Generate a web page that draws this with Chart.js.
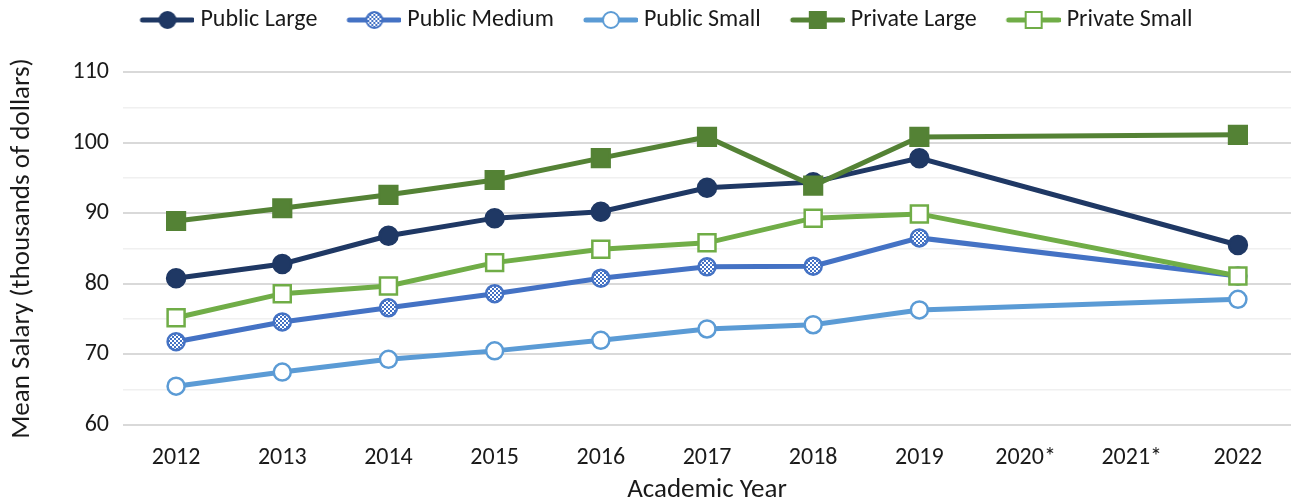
<!DOCTYPE html>
<html>
<head>
<meta charset="utf-8">
<script src="https://cdn.jsdelivr.net/npm/chart.js@4.4.1/dist/chart.umd.min.js"></script>
<style>
  html, body { margin: 0; padding: 0; background: #fff; }
  #chart { display: block; }
</style>
</head>
<body>
<canvas id="chart" width="1306" height="504"></canvas>
<script>
// academic years on the x axis (2020 and 2021 have no data)
const years = ['2012', '2013', '2014', '2015', '2016', '2017', '2018', '2019', '2020*', '2021*', '2022'];

// mean salary, thousands of dollars
const publicLarge  = [80.8, 82.8, 86.8, 89.3, 90.2, 93.6, 94.4, 97.8, null, null, 85.5];
const publicMedium = [71.8, 74.6, 76.6, 78.6, 80.8, 82.4, 82.5, 86.5, null, null, 81.1];
const publicSmall  = [65.5, 67.5, 69.3, 70.5, 72.0, 73.6, 74.2, 76.3, null, null, 77.8];
const privateLarge = [88.9, 90.7, 92.6, 94.7, 97.8, 100.8, 93.9, 100.8, null, null, 101.1];
const privateSmall = [75.2, 78.6, 79.7, 83.0, 84.9, 85.8, 89.3, 89.9, null, null, 81.1];

const yTicks = [60, 70, 80, 90, 100, 110];

const FONT = 'Calibri, Carlito, Lato, sans-serif';
const TXT = '#1a1a1a';
const canvas = document.getElementById('chart');
const ctx = canvas.getContext('2d');

// checker fill for the Public Medium markers
function checker(color) {
  const pc = document.createElement('canvas');
  pc.width = 4; pc.height = 4;
  const g = pc.getContext('2d');
  g.fillStyle = '#fff';
  g.fillRect(0, 0, 4, 4);
  g.fillStyle = color;
  g.fillRect(0, 0, 2, 2);
  g.fillRect(2, 2, 2, 2);
  return ctx.createPattern(pc, 'repeat');
}

// legend picture: line with the marker in the middle.
// legend box is 70 wide, picture 82 wide centred on it -> line ends just before the text
function legendImg(color, shape, fill) {
  const c = document.createElement('canvas');
  c.width = 82; c.height = 24;
  const g = c.getContext('2d');
  g.strokeStyle = color;
  g.lineWidth = 5;
  g.lineCap = 'round';
  g.beginPath();
  g.moveTo(30, 12);
  g.lineTo(80, 12);
  g.stroke();
  g.fillStyle = fill;
  g.lineWidth = 2;
  const mx = 55;
  if (shape == 'circle') {
    g.beginPath();
    g.arc(mx, 12, 8, 0, Math.PI * 2);
    g.fill();
    g.stroke();
  } else {
    g.fillRect(mx - 8, 4, 16, 16);
    g.strokeRect(mx - 8, 4, 16, 16);
  }
  return c;
}

const medPattern = checker('#4472C4');

const legendImgs = [
  legendImg('#1F3864', 'circle', '#1F3864'),
  legendImg('#4472C4', 'circle', checker('#4472C4')),
  legendImg('#5B9BD5', 'circle', '#fff'),
  legendImg('#548235', 'rect', '#548235'),
  legendImg('#70AD47', 'rect', '#fff')
];

function serie(label, data, color, style, fill, radius, order) {
  return {
    label: label,
    data: data,
    borderColor: color,
    backgroundColor: color,
    borderWidth: 5,
    pointStyle: style,
    pointRadius: radius,
    pointHoverRadius: radius,
    pointBackgroundColor: fill,
    pointBorderColor: color,
    pointBorderWidth: 2.5,
    spanGaps: true,
    tension: 0,
    order: order
  };
}

// extra room under the legend so the plot starts lower
const legendGap = {
  id: 'legendGap',
  beforeLayout(chart) {
    const lg = chart.legend;
    if (lg && !lg._gapDone) {
      const fit = lg.fit.bind(lg);
      lg.fit = function() { fit(); this.height += 30; };
      lg._gapDone = true;
    }
  }
};

new Chart(canvas, {
  type: 'line',
  data: {
    labels: years,
    datasets: [
      serie('Public Large', publicLarge, '#1F3864', 'circle', '#1F3864', 9, 5),
      serie('Public Medium', publicMedium, '#4472C4', 'circle', medPattern, 8.5, 4),
      serie('Public Small', publicSmall, '#5B9BD5', 'circle', '#fff', 8.5, 3),
      serie('Private Large', privateLarge, '#548235', 'rect', '#548235', 12.5, 2),
      serie('Private Small', privateSmall, '#70AD47', 'rect', '#fff', 12, 1)
    ]
  },
  plugins: [legendGap],
  options: {
    responsive: false,
    animation: false,
    devicePixelRatio: 1,
    layout: { padding: { left: 6, right: 1, top: 0, bottom: 0 } },
    plugins: {
      tooltip: { enabled: false },
      legend: {
        position: 'top',
        labels: {
          usePointStyle: true,
          pointStyleWidth: 70,
          padding: 8,
          color: TXT,
          font: { family: FONT, size: 24 },
          generateLabels: function(chart) {
            const items = Chart.defaults.plugins.legend.labels.generateLabels(chart);
            items.sort((a, b) => a.datasetIndex - b.datasetIndex);
            items.forEach(it => { it.pointStyle = legendImgs[it.datasetIndex]; });
            return items;
          }
        }
      }
    },
    scales: {
      x: {
        offset: true,
        grid: { display: false },
        border: { display: false },
        ticks: { color: TXT, font: { family: FONT, size: 24 }, padding: 11 },
        title: {
          display: true,
          text: 'Academic Year',
          color: TXT,
          font: { family: FONT, size: 27, lineHeight: 1 },
          padding: { top: 0, bottom: 0 }
        },
        afterFit: function(scale) { scale.height = 79; }
      },
      y: {
        min: 60,
        max: 110,
        ticks: {
          stepSize: 5,
          color: TXT,
          font: { family: FONT, size: 24 },
          padding: 14,
          callback: function(v) { return yTicks.includes(v) ? v : ''; }
        },
        grid: {
          drawTicks: false,
          color: function(c) { return c.tick && c.tick.value % 10 == 0 ? '#d9d9d9' : '#f0f0f0'; },
          lineWidth: function(c) { return c.tick && c.tick.value % 10 == 0 ? 2 : 1.5; }
        },
        border: { display: false },
        title: {
          display: true,
          text: 'Mean Salary (thousands of dollars)',
          color: TXT,
          font: { family: FONT, size: 27 },
          padding: { top: 0, bottom: 4 }
        },
        afterFit: function(scale) { scale.width = 117; }
      }
    }
  }
});
</script>
</body>
</html>
